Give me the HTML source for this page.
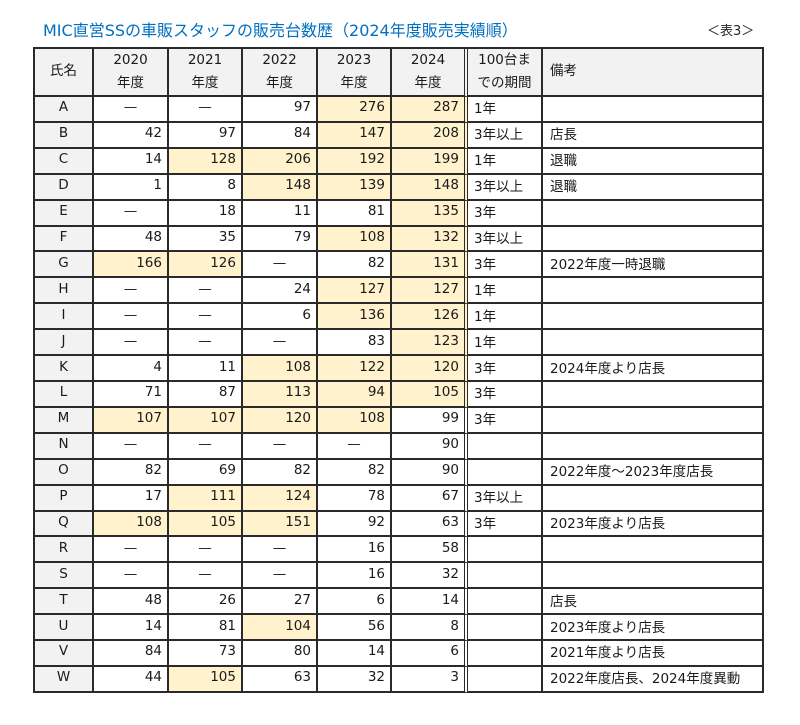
<!DOCTYPE html>
<html>
<head>
<meta charset="utf-8">
<style>
html,body{margin:0;padding:0;background:#fff;}
body{width:800px;height:725px;position:relative;overflow:hidden;font-family:"DejaVu Sans","Noto Sans CJK JP",sans-serif;color:#1a1a1a;}
.title{position:absolute;left:43px;top:22px;font-size:16px;line-height:18px;color:#0070C0;white-space:nowrap;}
.tag{position:absolute;left:707px;top:24px;font-size:13px;line-height:16px;color:#222;white-space:nowrap;}
.grid{position:absolute;left:33px;top:47px;border-top:2px solid #2a2a2a;border-left:2px solid #2a2a2a;display:grid;
grid-template-columns:59px 75px 74px 75px 74px 76px 75px 221px;
grid-template-rows:48px repeat(23,25.913px);font-size:13.5px;}
.grid>div{box-sizing:border-box;border-right:2px solid #2a2a2a;border-bottom:2px solid #2a2a2a;display:flex;align-items:center;white-space:nowrap;padding-bottom:3px;background:#fff;}
.grid>div.d{border-right:4px double #2a2a2a;}
.hd{background:#F2F2F2 !important;justify-content:center;text-align:center;line-height:23px;padding-bottom:1px !important;}
.hl{justify-content:flex-start !important;padding-left:7px;}
.n{background:#F2F2F2 !important;justify-content:center;}
.v{justify-content:flex-end;padding-right:5px;}
.c{justify-content:center;}
.h{background:#FFF2CC !important;}
.p{padding-left:6px;}
.r{padding-left:7px;}
</style>
</head>
<body>
<div class="title">MIC直営SSの車販スタッフの販売台数歴（2024年度販売実績順）</div>
<div class="tag">＜表3＞</div>
<div class="grid">
<div class="hd">氏名</div><div class="hd">2020<br>年度</div><div class="hd">2021<br>年度</div><div class="hd">2022<br>年度</div><div class="hd">2023<br>年度</div><div class="hd d">2024<br>年度</div><div class="hd">100台ま<br>での期間</div><div class="hd hl">備考</div>

<div class="n">A</div><div class="c">—</div><div class="c">—</div><div class="v">97</div><div class="v h">276</div><div class="v h d">287</div><div class="p">1年</div><div class="r"></div>
<div class="n">B</div><div class="v">42</div><div class="v">97</div><div class="v">84</div><div class="v h">147</div><div class="v h d">208</div><div class="p">3年以上</div><div class="r">店長</div>
<div class="n">C</div><div class="v">14</div><div class="v h">128</div><div class="v h">206</div><div class="v h">192</div><div class="v h d">199</div><div class="p">1年</div><div class="r">退職</div>
<div class="n">D</div><div class="v">1</div><div class="v">8</div><div class="v h">148</div><div class="v h">139</div><div class="v h d">148</div><div class="p">3年以上</div><div class="r">退職</div>
<div class="n">E</div><div class="c">—</div><div class="v">18</div><div class="v">11</div><div class="v">81</div><div class="v h d">135</div><div class="p">3年</div><div class="r"></div>
<div class="n">F</div><div class="v">48</div><div class="v">35</div><div class="v">79</div><div class="v h">108</div><div class="v h d">132</div><div class="p">3年以上</div><div class="r"></div>
<div class="n">G</div><div class="v h">166</div><div class="v h">126</div><div class="c">—</div><div class="v">82</div><div class="v h d">131</div><div class="p">3年</div><div class="r">2022年度一時退職</div>
<div class="n">H</div><div class="c">—</div><div class="c">—</div><div class="v">24</div><div class="v h">127</div><div class="v h d">127</div><div class="p">1年</div><div class="r"></div>
<div class="n">I</div><div class="c">—</div><div class="c">—</div><div class="v">6</div><div class="v h">136</div><div class="v h d">126</div><div class="p">1年</div><div class="r"></div>
<div class="n">J</div><div class="c">—</div><div class="c">—</div><div class="c">—</div><div class="v">83</div><div class="v h d">123</div><div class="p">1年</div><div class="r"></div>
<div class="n">K</div><div class="v">4</div><div class="v">11</div><div class="v h">108</div><div class="v h">122</div><div class="v h d">120</div><div class="p">3年</div><div class="r">2024年度より店長</div>
<div class="n">L</div><div class="v">71</div><div class="v">87</div><div class="v h">113</div><div class="v h">94</div><div class="v h d">105</div><div class="p">3年</div><div class="r"></div>
<div class="n">M</div><div class="v h">107</div><div class="v h">107</div><div class="v h">120</div><div class="v h">108</div><div class="v d">99</div><div class="p">3年</div><div class="r"></div>
<div class="n">N</div><div class="c">—</div><div class="c">—</div><div class="c">—</div><div class="c">—</div><div class="v d">90</div><div class="p"></div><div class="r"></div>
<div class="n">O</div><div class="v">82</div><div class="v">69</div><div class="v">82</div><div class="v">82</div><div class="v d">90</div><div class="p"></div><div class="r">2022年度～2023年度店長</div>
<div class="n">P</div><div class="v">17</div><div class="v h">111</div><div class="v h">124</div><div class="v">78</div><div class="v d">67</div><div class="p">3年以上</div><div class="r"></div>
<div class="n">Q</div><div class="v h">108</div><div class="v h">105</div><div class="v h">151</div><div class="v">92</div><div class="v d">63</div><div class="p">3年</div><div class="r">2023年度より店長</div>
<div class="n">R</div><div class="c">—</div><div class="c">—</div><div class="c">—</div><div class="v">16</div><div class="v d">58</div><div class="p"></div><div class="r"></div>
<div class="n">S</div><div class="c">—</div><div class="c">—</div><div class="c">—</div><div class="v">16</div><div class="v d">32</div><div class="p"></div><div class="r"></div>
<div class="n">T</div><div class="v">48</div><div class="v">26</div><div class="v">27</div><div class="v">6</div><div class="v d">14</div><div class="p"></div><div class="r">店長</div>
<div class="n">U</div><div class="v">14</div><div class="v">81</div><div class="v h">104</div><div class="v">56</div><div class="v d">8</div><div class="p"></div><div class="r">2023年度より店長</div>
<div class="n">V</div><div class="v">84</div><div class="v">73</div><div class="v">80</div><div class="v">14</div><div class="v d">6</div><div class="p"></div><div class="r">2021年度より店長</div>
<div class="n">W</div><div class="v">44</div><div class="v h">105</div><div class="v">63</div><div class="v">32</div><div class="v d">3</div><div class="p"></div><div class="r">2022年度店長、2024年度異動</div>
</div>
</body>
</html>
